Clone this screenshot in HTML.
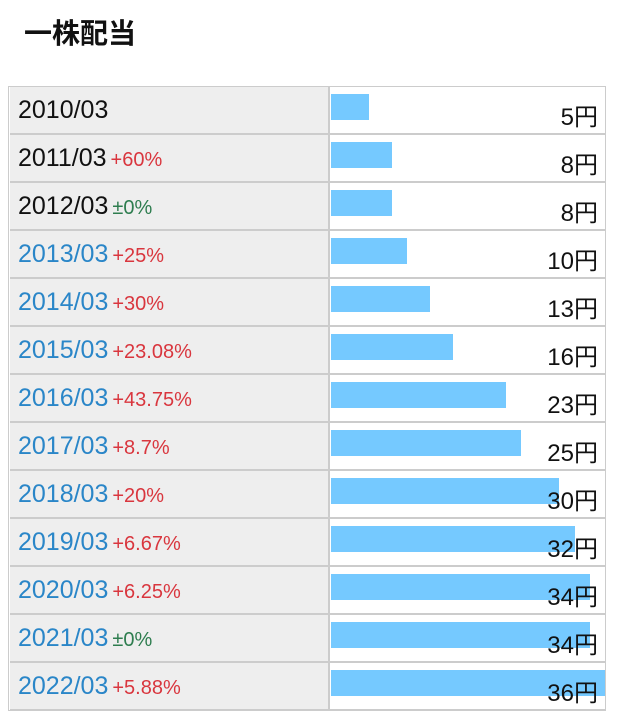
<!DOCTYPE html>
<html><head><meta charset="utf-8"><style>
body{margin:0;width:622px;height:722px;background:#fff;font-family:"Liberation Sans","Noto Sans CJK JP",sans-serif;position:relative;overflow:hidden}
h1{position:absolute;left:24px;top:12px;margin:0;font-size:28px;font-weight:bold;font-family:"Noto Sans CJK JP",sans-serif;color:#111}
#tbl{position:absolute;left:8px;top:86px;width:598px;height:625px;border:1px solid #ccc;box-sizing:border-box}
.row{position:absolute;left:1px;width:596px;height:48px;border-bottom:2px solid #ccc;box-sizing:border-box}
.lab{position:absolute;left:0;top:0;width:320px;height:46px;background:#eee;border-right:2px solid #ccc;box-sizing:border-box}
.yr{position:absolute;left:8px;top:9px;font-size:25px;white-space:nowrap}
.pct{font-size:20px;margin-left:4px}
.bar{position:absolute;left:321px;top:7px;height:26px;background:#75c9ff}
.val{position:absolute;right:8px;top:10px;font-size:24px;color:#111}
</style></head><body>
<h1>一株配当</h1>
<div id="tbl"></div>
<script>
const years=["2010/03","2011/03","2012/03","2013/03","2014/03","2015/03","2016/03","2017/03","2018/03","2019/03","2020/03","2021/03","2022/03"];
const values=[5,8,8,10,13,16,23,25,30,32,34,34,36];
const changes=["","+60%","±0%","+25%","+30%","+23.08%","+43.75%","+8.7%","+20%","+6.67%","+6.25%","±0%","+5.88%"];
const linked=[false,false,false,true,true,true,true,true,true,true,true,true,true];
const tbl=document.getElementById('tbl');
const maxV=Math.max(...values);
function xScale(v){return v/maxV*274;}
years.forEach((y,i)=>{
  const r=document.createElement('div');r.className='row';r.style.top=(48*i)+'px';
  
  
  const l=document.createElement('div');l.className='lab';
  
  
  const t=document.createElement('span');t.className='yr';t.style.color=linked[i]?'#2a86c8':'#111';
  
  
  t.textContent=y;
  if(changes[i]){const p=document.createElement('span');p.className='pct';p.textContent=changes[i];
    p.style.color=changes[i].startsWith('±')?'#2e7d4f':'#d9363e';
    
    
    t.appendChild(p);}
  l.appendChild(t);r.appendChild(l);
  const b=document.createElement('div');b.className='bar';b.style.width=xScale(values[i])+'px';
  
  
  r.appendChild(b);
  const v=document.createElement('div');v.className='val';v.textContent=values[i]+'円';
  
  
  r.appendChild(v);
  tbl.appendChild(r);
});
</script>
</body></html>
